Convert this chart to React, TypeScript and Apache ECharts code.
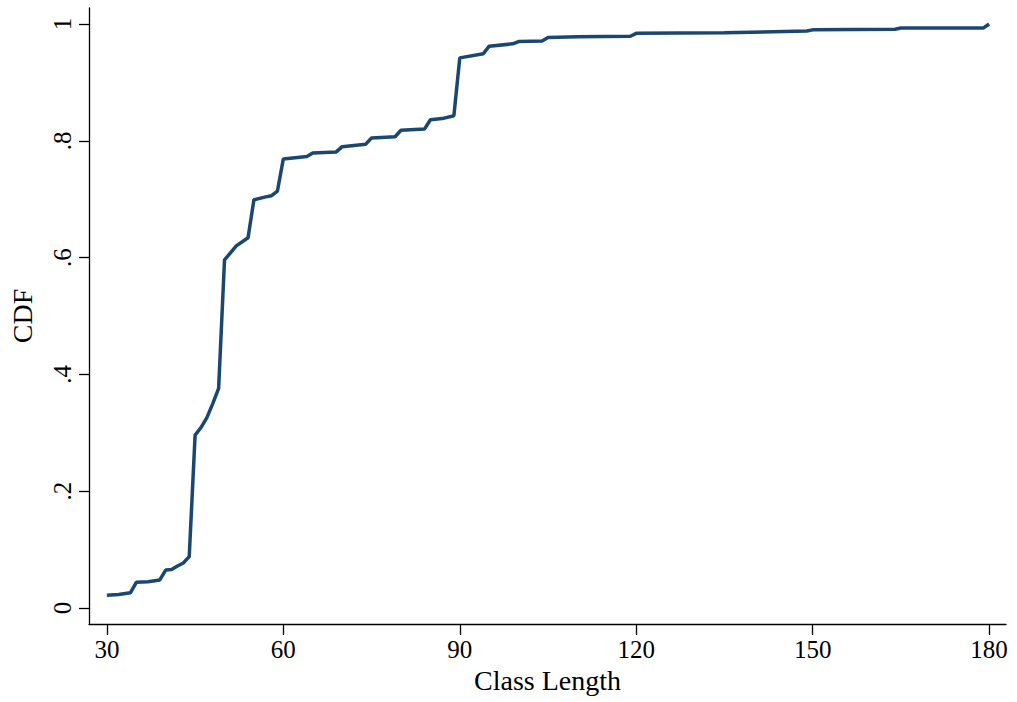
import React, { useEffect, useRef } from "react";
import * as echarts from "echarts";

// Class length (x) and empirical CDF (y)
const classLength = [
  30, 32, 34, 35, 37, 39, 40, 41, 42, 43, 44, 45, 46, 47, 48, 49, 50, 52, 54,
  55, 57, 58, 59, 60, 64, 65, 69, 70, 74, 75, 79, 80, 84, 85, 87, 89, 90, 94,
  95, 99, 100, 104, 105, 110, 119, 120, 135, 149, 150, 164, 165, 179, 180,
];
const cdfValues = [
  0.022, 0.023, 0.026, 0.044, 0.045, 0.048, 0.065, 0.066, 0.072, 0.077, 0.088,
  0.296, 0.309, 0.326, 0.35, 0.376, 0.596, 0.62, 0.634, 0.699, 0.704, 0.706,
  0.714, 0.769, 0.773, 0.779, 0.781, 0.79, 0.794, 0.805, 0.807, 0.818, 0.82,
  0.836, 0.838, 0.843, 0.942, 0.949, 0.962, 0.966, 0.97, 0.971, 0.977, 0.978,
  0.979, 0.984, 0.985, 0.988, 0.99, 0.991, 0.993, 0.993, 1.0,
];
const xTicks = [30, 60, 90, 120, 150, 180];
const yTicks = [0, 0.2, 0.4, 0.6, 0.8, 1];

const FONT = "'Liberation Serif', 'Times New Roman', serif";

export default function App() {
  const ref = useRef<HTMLDivElement>(null);
  useEffect(() => {
    document.body.style.margin = "0";
    if (!ref.current) return;
    const chart = echarts.init(ref.current, null, { renderer: "svg" });
    const data = classLength.map((x, i) => [x, cdfValues[i]]);
    chart.setOption({
      animation: false,
      backgroundColor: "#ffffff",
      grid: { left: 83, right: 11, top: 8, bottom: 78, containLabel: false },
      xAxis: {
        type: "value",
        min: 26.96,
        max: 182.87,
        name: "Class Length",
        nameLocation: "middle",
        nameGap: 39,
        nameTextStyle: { fontFamily: FONT, fontSize: 28, color: "#000" },
        axisLine: { show: true, onZero: false, lineStyle: { color: "#000", width: 1.3 } },
        axisTick: { show: true, length: 11, customValues: xTicks, lineStyle: { color: "#000", width: 1.3 } },
        axisLabel: {
          customValues: xTicks,
          fontFamily: FONT,
          fontSize: 25,
          color: "#000",
          margin: 13,
        },
        splitLine: { show: false },
      },
      yAxis: {
        type: "value",
        min: -0.0274,
        max: 1.0274,
        name: "CDF",
        nameLocation: "middle",
        nameGap: 53,
        nameRotate: 90,
        nameTextStyle: { fontFamily: FONT, fontSize: 28, color: "#000" },
        axisLine: { show: true, onZero: false, lineStyle: { color: "#000", width: 1.3 } },
        axisTick: { show: true, length: 10, customValues: yTicks, lineStyle: { color: "#000", width: 1.3 } },
        axisLabel: {
          customValues: yTicks,
          rotate: 90,
          fontFamily: FONT,
          fontSize: 25,
          color: "#000",
          margin: 14,
          formatter: (v: number) => {
            if (Math.abs(v) < 1e-9) return "0";
            if (Math.abs(v - 1) < 1e-9) return "1";
            return "." + Math.round(v * 10);
          },
        },
        splitLine: { show: false },
      },
      series: [
        {
          type: "line",
          data,
          showSymbol: false,
          symbol: "none",
          lineStyle: { color: "#1a476f", width: 3.5 },
        },
      ],
    });
    return () => chart.dispose();
  }, []);
  return <div ref={ref} style={{ width: 1017, height: 702 }} />;
}
